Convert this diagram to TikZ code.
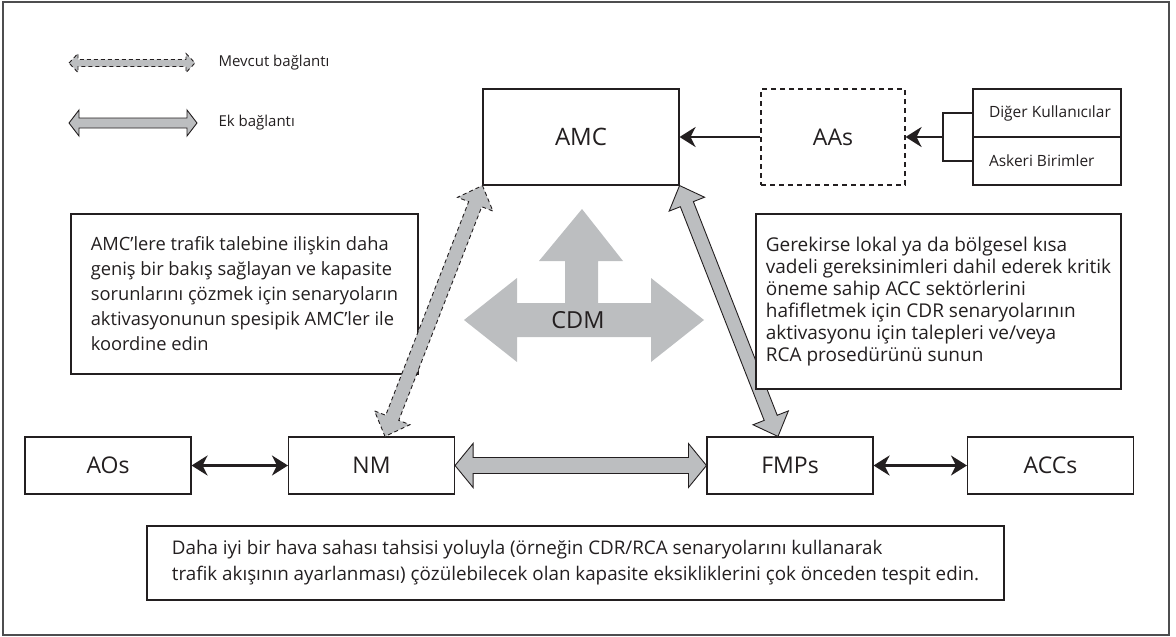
\documentclass[tikz,border=0pt]{standalone}
\usepackage{fontspec}
\setmainfont{Open Sans}
\usetikzlibrary{arrows.meta, calc}

\definecolor{linegray}{HTML}{231F20}
\definecolor{fillgray}{HTML}{BCBEC0}
\definecolor{framegray}{HTML}{4D4D4F}

\tikzset{
  blacktip/.tip={Stealth[length=16pt,width=20pt,inset=5pt]},
  box/.style={draw=linegray, fill=white, line width=1.1pt, minimum width=166pt, minimum height=57pt, text=linegray, font=\fontsize{23}{27}\selectfont},
  smallbox/.style={box, minimum width=148pt, minimum height=48pt, inner xsep=16pt, font=\fontsize{15.5}{18}\selectfont},
  textbox/.style={draw=linegray, fill=white, line width=1.1pt, align=left, inner sep=0pt, text=linegray},
  link/.style={blacktip-blacktip, draw=linegray, line width=2.5pt},
  fat/.style={fill=fillgray, draw=linegray, line width=0.9pt, line join=miter},
  fatdash/.style={fat, dash pattern=on 4pt off 3pt}
}

% fat double arrow: [style]{from}{to}{head length}{head half width}{shaft half width}
\newcommand{\fatlink}[6][fat]{%
  \draw[#1] (#2) -- ($(#2)!#4!(#3)!#5!90:(#3)$) -- ($(#2)!#4!(#3)!#6!90:(#3)$)
    -- ($(#3)!#4!(#2)!#6!-90:(#2)$) -- ($(#3)!#4!(#2)!#5!-90:(#2)$) -- (#3)
    -- ($(#3)!#4!(#2)!#5!90:(#2)$) -- ($(#3)!#4!(#2)!#6!90:(#2)$)
    -- ($(#2)!#4!(#3)!#6!-90:(#3)$) -- ($(#2)!#4!(#3)!#5!-90:(#3)$) -- cycle;}

\begin{document}
\begin{tikzpicture}[x=1pt, y=-1pt]
    \useasboundingbox (0,0) rectangle (1176,637);
    \draw[framegray, line width=1.5pt] (3,2) rectangle (1169,635);

    % Define nodes
    \node[box, minimum width=196pt, minimum height=96pt, font=\fontsize{24}{28}\selectfont] (amc) at (581,137) {AMC};
    \node[box, minimum width=144pt, minimum height=96pt, dash pattern=on 5pt off 4pt] (aas) at (833,137) {AAs};
    \node[smallbox] (diger) at (1047,113) {\makebox[116pt][l]{Diğer Kullanıcılar}};
    \node[smallbox] (askeri) at (1047,161) {\makebox[116pt][l]{Askeri Birimler}};
    \node[box] (aos) at (108,465.5) {AOs};
    \node[box] (nm) at (371.5,465.5) {NM};
    \node[box] (fmps) at (790,465.5) {FMPs};
    \node[box] (accs) at (1050.5,465.5) {ACCs};
    \node[textbox, minimum width=347pt, minimum height=160pt, font=\fontsize{18.3}{25}\selectfont] (amcnote) at (244.5,294)
        {AMC’lere trafik talebine ilişkin daha\\ geniş bir bakış sağlayan ve kapasite\\ sorunlarını çözmek için senaryoların\\ aktivasyonunun spesipik AMC’ler ile\\ koordine edin};

    % CDM cross
    \fill[fillgray] (582,209) -- (623,261) -- (598,261) -- (598,303) -- (651,303) -- (651,278) -- (704,320)
        -- (651,362) -- (651,337) -- (517,337) -- (517,362) -- (464,320) -- (517,278) -- (517,303)
        -- (565,303) -- (565,261) -- (539,261) -- cycle;
    \node[text=linegray, font=\fontsize{23.5}{28}\selectfont] (cdm) at (578,320) {CDM};

    % Legend
    \coordinate (mevcutL) at (69,63);
    \coordinate (mevcutR) at (195,63);
    \coordinate (ekL) at (69,123);
    \coordinate (ekR) at (197,123);
    \fatlink[fatdash]{mevcutL}{mevcutR}{9pt}{9.5pt}{3.5pt}
    \fatlink{ekL}{ekR}{10pt}{13pt}{5pt}
    \node[anchor=west, text=linegray, font=\fontsize{15}{18}\selectfont] (mevcut) at (215,63) {Mevcut bağlantı};
    \node[anchor=west, text=linegray, font=\fontsize{15}{18}\selectfont] (ek) at (215,123) {Ek bağlantı};

    % Draw edges
    \coordinate (nmtop) at ($(nm.north)+(13.5,0)$);
    \coordinate (fmpstop) at ($(fmps.north)+(-12,0)$);
    \coordinate (brk) at (943,137);
    \fatlink[fatdash]{amc.south west}{nmtop}{20pt}{19pt}{7pt}
    \fatlink{amc.south east}{fmpstop}{20pt}{19pt}{7pt}
    \fatlink{nm.east}{fmps.west}{18pt}{22pt}{8pt}
    \draw[link] (aos) -- (nm);
    \draw[link] (fmps) -- (accs);
    \draw[link, -blacktip] (aas) -- (amc);
    \draw[link, -blacktip] (brk) -- (aas);
    \draw[draw=linegray, line width=1.1pt] (diger.west) -| (brk) |- (askeri.west);

    \node[textbox, minimum width=365pt, minimum height=175pt, font=\fontsize{19}{22}\selectfont] (accnote) at (938.5,301.5)
        {Gerekirse lokal ya da bölgesel kısa\\ vadeli gereksinimleri dahil ederek kritik\\ öneme sahip ACC sektörlerini\\ hafifletmek için CDR senaryolarının\\ aktivasyonu için talepleri ve/veya\\ RCA prosedürünü sunun};
    \node[textbox, minimum width=857pt, minimum height=74pt, font=\fontsize{18.8}{26}\selectfont] (capnote) at (575.5,563)
        {Daha iyi bir hava sahası tahsisi yoluyla (örneğin CDR/RCA senaryolarını kullanarak\\ trafik akışının ayarlanması) çözülebilecek olan kapasite eksikliklerini çok önceden tespit edin.};

\end{tikzpicture}
\end{document}
